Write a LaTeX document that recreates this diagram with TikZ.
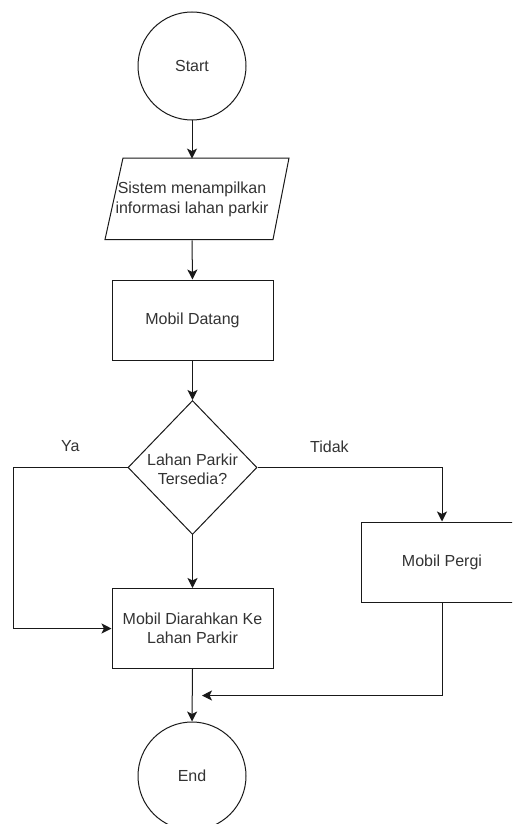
\documentclass[tikz,border=0pt]{standalone}
\usepackage{fontspec}
\setmainfont{Liberation Sans}
\usetikzlibrary{shapes.geometric,arrows.meta}
\begin{document}
\begin{tikzpicture}[x=1pt,y=-1pt,
  every node/.style={font=\fontsize{16}{19.5}\selectfont, text=black!80},
  line/.style={draw=black!90, line width=1pt},
  arr/.style={line, -{Stealth[length=10pt,width=10pt,inset=2.5pt]}},
  term/.style={circle, line, minimum size=108pt, inner sep=0pt, fill=white},
  proc/.style={rectangle, line, minimum width=161pt, minimum height=80pt, inner sep=0pt, align=center, fill=white},
  decision/.style={diamond, line, minimum width=129pt, minimum height=134pt, inner sep=0pt, fill=white},
  lbl/.style={inner sep=0pt}
]
\useasboundingbox (0,0) rectangle (512,824);
\clip (0,0) rectangle (512,824);
\fill[white] (0,0) rectangle (512,824);

% Start
\node[term] (start) at (192,66) {Start};

% Parallelogram (input/output)
\draw[line, fill=white] (123,158) -- (289,158) -- (273,239.5) -- (105,239.5) -- cycle;
\node[inner sep=0pt, minimum height=81.5pt, minimum width=150pt, align=center] (par) at (192,199.5)
  {Sistem menampilkan\\informasi lahan parkir};

% Mobil Datang
\node[proc] (datang) at (192.5,320) {Mobil Datang};

% Decision
\node[decision] (dec) at (192.5,467.5) {\smash{\makebox[0pt]{\raisebox{-8pt}{\begin{tabular}{@{}c@{}}Lahan Parkir\\Tersedia?\end{tabular}}}}};

% Mobil Diarahkan
\node[proc] (arah) at (192.5,628.5) {Mobil Diarahkan Ke\\Lahan Parkir};

% Mobil Pergi (extends past right edge)
\node[proc, minimum width=162pt] (pergi) at (442,562) {Mobil Pergi};

% End
\node[term] (end) at (192,776) {End};

% connectors
\draw[arr] (start.south) -- (par.north);
\draw[arr] (par.south) -- (datang.north);
\draw[arr] (datang.south) -- (dec.north);
\draw[arr] (dec.south) -- (arah.north);
\draw[arr] (dec.west) -- node[lbl, midway, yshift=21pt]{Ya} (13,467.5) |- (arah.west);
\draw[arr] (dec.east) -- node[lbl, pos=0.39, yshift=21pt]{Tidak} (442,467.5) -- (pergi.north);
\coordinate (join) at (202,695.5);
\draw[arr] (pergi.south) |- (join);
\draw[arr] (arah.south) -- (end.north);
\end{tikzpicture}
\end{document}
